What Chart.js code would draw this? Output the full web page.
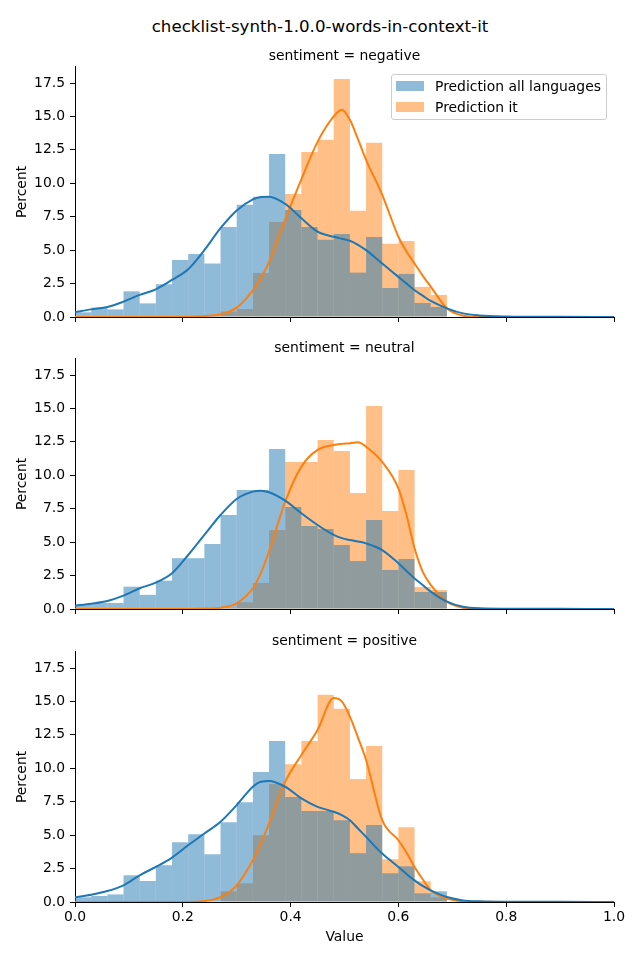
<!DOCTYPE html>
<html>
<head>
<meta charset="utf-8">
<script src="https://cdn.jsdelivr.net/npm/chart.js@4.4.1/dist/chart.umd.min.js"></script>
<style>
  body { margin: 0; background: #fff; }
  #fig { position: relative; width: 640px; height: 960px; font-family: "DejaVu Sans", sans-serif; color: #000; }
  #fig canvas { position: absolute; left: 0; }
  .suptitle { position: absolute; left: 0; top: 17px; width: 640px; text-align: center; font-size: 16.67px; line-height: 20px; }
  .legend { position: absolute; left: 391px; top: 74px; width: 214px; height: 44px; border: 1px solid #cccccc; border-radius: 3px; background: rgba(255,255,255,0.8); font-size: 13.9px; }
  .legend .patch { position: absolute; left: 4px; width: 28px; height: 10px; }
  .legend .label { position: absolute; left: 43px; line-height: 20px; white-space: nowrap; }
</style>
</head>
<body>
<div id="fig">
  <div class="suptitle">checklist-synth-1.0.0-words-in-context-it</div>
  <canvas id="negative" width="640" height="285" style="top:44px"></canvas>
  <canvas id="neutral" width="640" height="285" style="top:336px"></canvas>
  <canvas id="positive" width="640" height="331" style="top:629px"></canvas>
  <div class="legend">
    <div class="patch" style="top:6px; background: rgba(31,119,180,0.5)"></div>
    <div class="label" style="top:1px">Prediction all languages</div>
    <div class="patch" style="top:27px; background: rgba(255,127,14,0.5)"></div>
    <div class="label" style="top:22px">Prediction it</div>
  </div>
</div>
<script>
// histogram bins (width 0.03), centres
const binCenters = [0.015, 0.045, 0.075, 0.105, 0.135, 0.165, 0.195, 0.225, 0.255, 0.285, 0.315, 0.345,
  0.375, 0.405, 0.435, 0.465, 0.495, 0.525, 0.555, 0.585, 0.615, 0.645, 0.675];

// percent per bin
const negAll = [0.35, 0.7, 0.57, 1.92, 1.02, 2.45, 4.27, 4.72, 4.0, 6.74, 8.39, 8.99, 12.2, 8.0, 6.74, 5.77, 6.2, 3.32, 5.99, 2.17, 3.22, 1.05, 0.75];
const negIt = [0, 0, 0, 0, 0, 0, 0, 0, 0.1, 0.4, 0.6, 3.3, 7.1, 9.2, 12.35, 13.25, 17.8, 7.94, 13.03, 5.47, 5.69, 2.25, 1.65];
const neuAll = [0.3, 0.45, 0.45, 1.67, 1.06, 2.12, 3.8, 3.8, 4.86, 7.03, 8.9, 8.9, 11.97, 7.63, 6.2, 5.99, 4.79, 3.59, 6.66, 2.92, 3.74, 1.27, 1.27];
const neuIt = [0, 0, 0, 0, 0, 0, 0, 0, 0, 0.1, 0.5, 1.95, 5.9, 11.0, 11.0, 12.64, 11.82, 8.68, 15.19, 7.33, 10.4, 1.65, 1.42];
const posAll = [0.35, 0.45, 0.57, 2.0, 1.57, 2.75, 4.47, 5.07, 3.57, 5.97, 7.47, 9.72, 12.05, 7.85, 6.8, 6.8, 6.12, 3.65, 5.75, 2.15, 2.67, 0.65, 0.8];
const posIt = [0, 0, 0, 0, 0, 0, 0, 0, 0, 0.8, 1.4, 5.0, 8.82, 10.3, 12.05, 15.5, 14.45, 9.2, 11.67, 3.2, 5.6, 1.55, 0.35];

// kde curves
const kdeX = [0, 0.03, 0.06, 0.09, 0.12, 0.15, 0.18, 0.21, 0.24, 0.27, 0.30, 0.33, 0.345, 0.36, 0.39, 0.42, 0.45, 0.48, 0.495, 0.51,
  0.525, 0.54, 0.57, 0.60, 0.615, 0.63, 0.645, 0.66, 0.69, 0.72, 0.75, 0.80, 0.90, 1.0];
const negAllKde = [0.35, 0.57, 0.75, 1.15, 1.65, 2.07, 2.77, 3.57, 5.0, 6.64, 7.96, 8.8, 8.97, 9.0, 8.46, 7.39, 6.39, 6.0, 5.85, 5.7,
  5.4, 5.0, 4.0, 3.0, 2.5, 2.0, 1.6, 1.2, 0.65, 0.27, 0.12, 0.04, 0.01, 0];
const negItKde = [0, 0, 0, 0, 0, 0, 0, 0.02, 0.07, 0.2, 0.7, 2.0, 2.9, 4.1, 7.3, 10.3, 13.1, 15.0, 15.5, 14.75,
  13.3, 11.76, 9.14, 6.0, 4.9, 4.0, 3.1, 2.27, 0.65, 0.1, 0.02, 0, 0, 0];
const neuAllKde = [0.25, 0.4, 0.6, 1.0, 1.55, 1.97, 2.67, 4.04, 5.54, 7.03, 8.23, 8.78, 8.85, 8.73, 8.1, 7.16, 6.28, 5.54, 5.3, 5.16,
  5.05, 4.91, 4.41, 3.42, 2.85, 2.29, 1.8, 1.3, 0.55, 0.17, 0.05, 0.02, 0.01, 0];
const neuItKde = [0, 0, 0, 0, 0, 0, 0, 0, 0.03, 0.1, 0.42, 1.55, 2.7, 4.29, 8.03, 10.65, 11.9, 12.27, 12.35, 12.4,
  12.47, 12.14, 11.0, 9.03, 7.03, 4.54, 2.79, 1.8, 0.55, 0.1, 0.02, 0, 0, 0];
const posAllKde = [0.35, 0.55, 0.82, 1.25, 2.0, 2.62, 3.32, 4.25, 5.12, 6.0, 7.25, 8.62, 9.0, 9.05, 8.62, 7.75, 7.12, 6.75, 6.5, 6.12,
  5.5, 4.87, 3.62, 2.62, 2.1, 1.62, 1.2, 0.87, 0.37, 0.12, 0.05, 0.02, 0.01, 0];
const posItKde = [0, 0, 0, 0, 0, 0, 0, 0, 0.07, 0.37, 1.25, 3.12, 4.4, 5.87, 9.0, 11.0, 12.87, 15.25, 15.0, 13.87,
  12.3, 10.62, 6.12, 4.62, 3.7, 2.62, 1.7, 0.87, 0.25, 0.05, 0.01, 0, 0, 0];

const BLUE = "#1f77b4";
const ORANGE = "#ff7f0e";
const tickFont = { family: "DejaVu Sans", size: 13.9 };

Chart.defaults.font.family = "DejaVu Sans";
Chart.defaults.color = "#000";

const toPoints = (xs, ys) => xs.map((x, i) => ({ x, y: ys[i] }));

function makePanel(id, title, allHist, itHist, allKde, itKde, bottom) {
  return new Chart(document.getElementById(id), {
    type: "bar",
    data: {
      datasets: [
        { type: "line", data: toPoints(kdeX, allKde), borderColor: BLUE, borderWidth: 2, pointRadius: 0,
          cubicInterpolationMode: "monotone", fill: false, order: 0 },
        { type: "line", data: toPoints(kdeX, itKde), borderColor: ORANGE, borderWidth: 2, pointRadius: 0,
          cubicInterpolationMode: "monotone", fill: false, order: 1 },
        { label: "Prediction all languages", data: toPoints(binCenters, allHist),
          backgroundColor: "rgba(31,119,180,0.5)", order: 2 },
        { label: "Prediction it", data: toPoints(binCenters, itHist),
          backgroundColor: "rgba(255,127,14,0.5)", order: 3 }
      ]
    },
    options: {
      responsive: false,
      animation: false,
      layout: { padding: { left: 0, right: 26, top: 0, bottom: 0 } },
      datasets: {
        bar: { barPercentage: 1, categoryPercentage: 1, grouped: false, borderWidth: 0, inflateAmount: 0 }
      },
      plugins: {
        legend: { display: false },
        tooltip: { enabled: false },
        title: {
          display: true,
          fullSize: false,
          text: title,
          font: { family: "DejaVu Sans", size: 13.9, weight: "normal", lineHeight: 1.2 },
          padding: { top: 4, bottom: 2.3 }
        }
      },
      scales: {
        x: {
          type: "linear",
          min: 0,
          max: 1,
          offset: false,
          grid: { offset: false, drawOnChartArea: false, drawTicks: true, tickLength: 5, color: "#000" },
          border: { color: "#000", width: 1 },
          ticks: {
            stepSize: 0.2,
            padding: 2,
            font: tickFont,
            maxRotation: 0,
            autoSkip: false,
            callback: (v) => (bottom ? v.toFixed(1) : "")
          },
          title: {
            display: bottom,
            text: "Value",
            font: tickFont,
            padding: { top: 0, bottom: 14 }
          },
          afterFit: (s) => {
            s.height = bottom ? 58 : 12;
            s.paddingLeft = 0;
            s.paddingRight = 0;
          }
        },
        y: {
          min: 0,
          max: 18.7,
          grid: { drawOnChartArea: false, drawTicks: true, tickLength: 5, color: "#000" },
          border: { color: "#000", width: 1 },
          ticks: {
            stepSize: 2.5,
            includeBounds: false,
            padding: 5,
            font: tickFont,
            callback: (v) => v.toFixed(1)
          },
          title: {
            display: true,
            text: "Percent",
            font: tickFont,
            padding: { top: 14, bottom: 0 }
          },
          afterFit: (s) => {
            s.width = 75;
            s.paddingTop = 0;
            s.paddingBottom = 0;
          }
        }
      }
    }
  });
}

makePanel("negative", "sentiment = negative", negAll, negIt, negAllKde, negItKde, false);
makePanel("neutral", "sentiment = neutral", neuAll, neuIt, neuAllKde, neuItKde, false);
makePanel("positive", "sentiment = positive", posAll, posIt, posAllKde, posItKde, true);
</script>
</body>
</html>
